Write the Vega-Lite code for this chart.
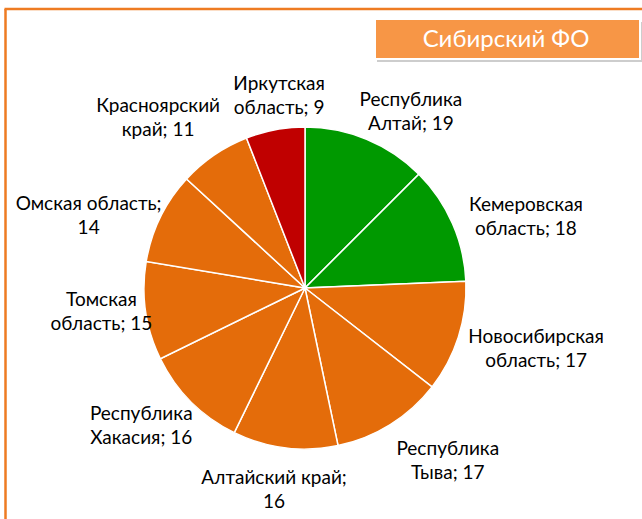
{
  "$schema": "https://vega.github.io/schema/vega-lite/v6.json",
  "width": 642,
  "height": 519,
  "autosize": "none",
  "padding": 0,
  "background": "white",
  "config": {"view": {"stroke": null}, "text": {"font": "Lato", "fontSize": 19, "lineBreak": "\n", "lineHeight": 24, "align": "center", "baseline": "middle", "color": "black", "dy": -12}},
  "data": {
    "values": [
      {"region": "Республика Алтай", "label": "Республика\nАлтай; 19", "value": 19, "status": "лидер", "order": 1},
      {"region": "Кемеровская область", "label": "Кемеровская\nобласть; 18", "value": 18, "status": "лидер", "order": 2},
      {"region": "Новосибирская область", "label": "Новосибирская\nобласть; 17", "value": 17, "status": "средний", "order": 3},
      {"region": "Республика Тыва", "label": "Республика\nТыва; 17", "value": 17, "status": "средний", "order": 4},
      {"region": "Алтайский край", "label": "Алтайский край;\n16", "value": 16, "status": "средний", "order": 5},
      {"region": "Республика Хакасия", "label": "Республика\nХакасия; 16", "value": 16, "status": "средний", "order": 6},
      {"region": "Томская область", "label": "Томская\nобласть; 15", "value": 15, "status": "средний", "order": 7},
      {"region": "Омская область", "label": "Омская область;\n14", "value": 14, "status": "средний", "order": 8},
      {"region": "Красноярский край", "label": "Красноярский\nкрай; 11", "value": 11, "status": "средний", "order": 9},
      {"region": "Иркутская область", "label": "Иркутская\nобласть; 9", "value": 9, "status": "отстающий", "order": 10}
    ]
  },
  "encoding": {
    "x": {"datum": 305, "type": "quantitative", "scale": {"domain": [0, 642], "nice": false, "zero": false}, "axis": null},
    "y": {"datum": 288, "type": "quantitative", "scale": {"domain": [0, 519], "nice": false, "zero": false, "reverse": true}, "axis": null}
  },
  "layer": [
    {
      "data": {"values": [{}]},
      "mark": {"type": "rule", "color": "#EE7B22", "strokeWidth": 2.5},
      "encoding": {"x": {"datum": 5.5, "type": "quantitative"}, "y": {"datum": 9, "type": "quantitative"}, "y2": {"datum": 519}}
    },
    {
      "data": {"values": [{}]},
      "mark": {"type": "rule", "color": "#EE7B22", "strokeWidth": 2.5},
      "encoding": {"x": {"datum": 4.5, "type": "quantitative"}, "x2": {"datum": 642}, "y": {"datum": 9, "type": "quantitative"}}
    },
    {
      "data": {"values": [{}]},
      "mark": {"type": "rect", "fill": "#b8b8b8", "opacity": 0.7},
      "encoding": {"x": {"datum": 377, "type": "quantitative"}, "x2": {"datum": 642}, "y": {"datum": 22, "type": "quantitative"}, "y2": {"datum": 62}}
    },
    {
      "data": {"values": [{}]},
      "mark": {"type": "rect", "fill": "#F79646", "stroke": "white", "strokeWidth": 2},
      "encoding": {"x": {"datum": 375, "type": "quantitative"}, "x2": {"datum": 640}, "y": {"datum": 19, "type": "quantitative"}, "y2": {"datum": 59}}
    },
    {
      "data": {"values": [{}]},
      "mark": {"type": "text", "text": "Сибирский ФО", "color": "white", "fontSize": 24, "dy": 0},
      "encoding": {"x": {"datum": 506, "type": "quantitative"}, "y": {"datum": 40, "type": "quantitative"}}
    },
    {
      "mark": {"type": "arc", "outerRadius": 161, "stroke": "white", "strokeWidth": 1.5},
      "encoding": {
        "theta": {"field": "value", "type": "quantitative", "stack": true},
        "order": {"field": "order", "type": "quantitative"},
        "color": {"field": "status", "type": "nominal", "scale": {"domain": ["лидер", "средний", "отстающий"], "range": ["#009900", "#E46C0A", "#C00000"]}, "legend": null}
      }
    },
    {"mark": {"type": "text", "radius": 205, "thetaOffset": 0.150}, "encoding": {"theta": {"field": "value", "type": "quantitative", "stack": true}, "order": {"field": "order", "type": "quantitative"}, "text": {"condition": {"test": "datum.order == 1", "field": "label"}, "value": ""}}},
    {"mark": {"type": "text", "radius": 232, "thetaOffset": 0.103}, "encoding": {"theta": {"field": "value", "type": "quantitative", "stack": true}, "order": {"field": "order", "type": "quantitative"}, "text": {"condition": {"test": "datum.order == 2", "field": "label"}, "value": ""}}},
    {"mark": {"type": "text", "radius": 239, "thetaOffset": -0.052}, "encoding": {"theta": {"field": "value", "type": "quantitative", "stack": true}, "order": {"field": "order", "type": "quantitative"}, "text": {"condition": {"test": "datum.order == 3", "field": "label"}, "value": ""}}},
    {"mark": {"type": "text", "radius": 224, "thetaOffset": -0.133}, "encoding": {"theta": {"field": "value", "type": "quantitative", "stack": true}, "order": {"field": "order", "type": "quantitative"}, "text": {"condition": {"test": "datum.order == 4", "field": "label"}, "value": ""}}},
    {"mark": {"type": "text", "radius": 204, "thetaOffset": 0.028}, "encoding": {"theta": {"field": "value", "type": "quantitative", "stack": true}, "order": {"field": "order", "type": "quantitative"}, "text": {"condition": {"test": "datum.order == 5", "field": "label"}, "value": ""}}},
    {"mark": {"type": "text", "radius": 214, "thetaOffset": 0.086}, "encoding": {"theta": {"field": "value", "type": "quantitative", "stack": true}, "order": {"field": "order", "type": "quantitative"}, "text": {"condition": {"test": "datum.order == 6", "field": "label"}, "value": ""}}},
    {"mark": {"type": "text", "radius": 205, "thetaOffset": 0.028}, "encoding": {"theta": {"field": "value", "type": "quantitative", "stack": true}, "order": {"field": "order", "type": "quantitative"}, "text": {"condition": {"test": "datum.order == 7", "field": "label"}, "value": ""}}},
    {"mark": {"type": "text", "radius": 228, "thetaOffset": -0.134}, "encoding": {"theta": {"field": "value", "type": "quantitative", "stack": true}, "order": {"field": "order", "type": "quantitative"}, "text": {"condition": {"test": "datum.order == 8", "field": "label"}, "value": ""}}},
    {"mark": {"type": "text", "radius": 225, "thetaOffset": -0.112}, "encoding": {"theta": {"field": "value", "type": "quantitative", "stack": true}, "order": {"field": "order", "type": "quantitative"}, "text": {"condition": {"test": "datum.order == 9", "field": "label"}, "value": ""}}},
    {"mark": {"type": "text", "radius": 194, "thetaOffset": 0.052}, "encoding": {"theta": {"field": "value", "type": "quantitative", "stack": true}, "order": {"field": "order", "type": "quantitative"}, "text": {"condition": {"test": "datum.order == 10", "field": "label"}, "value": ""}}}
  ]
}
